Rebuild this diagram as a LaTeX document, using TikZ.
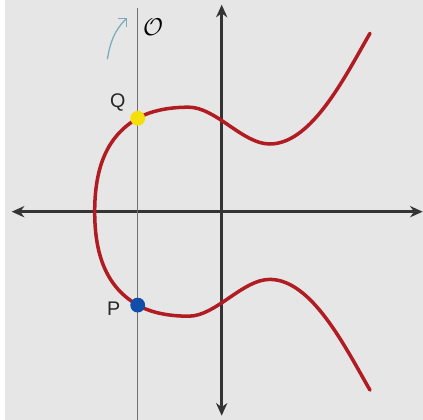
\documentclass[tikz,border=0pt]{standalone}
\usepackage{fontspec}
\setsansfont{Liberation Sans}
\usetikzlibrary{arrows.meta}
\definecolor{paper}{RGB}{230,230,230}
\definecolor{curvered}{RGB}{176,28,34}
\definecolor{axisgray}{RGB}{52,52,52}
\definecolor{linegray}{RGB}{112,112,112}
\definecolor{dotyellow}{RGB}{245,222,10}
\definecolor{dotblue}{RGB}{16,78,170}
\definecolor{hintteal}{RGB}{120,172,188}
\tikzset{
  axis/.style={line width=2.1pt, draw=axisgray, {Stealth[length=9pt,width=8pt]}-{Stealth[length=9pt,width=8pt]}},
  dot/.style={circle, inner sep=0pt, minimum size=0.37cm},
  ptlabel/.style={font=\sffamily\fontsize{14}{14}\selectfont, text=black!85}
}
\begin{document}
\begin{tikzpicture}[x=0.025cm, y=0.025cm]
\useasboundingbox (-221.7,-208.3) rectangle (201.3,211.7);
\fill[white] (-221.7,-208.3) rectangle (201.3,211.7);
\fill[paper] (-216.7,-208.3) rectangle (201.3,211.7);
% axes
\coordinate (xl) at (-210,0);
\coordinate (xr) at (201,0);
\coordinate (yt) at (0,207);
\coordinate (yb) at (0,-204);
\draw[axis] (xl) -- (xr);
\draw[axis] (yb) -- (yt);
% vertical line through P and Q
\coordinate (vt) at (-84,204);
\coordinate (vb) at (-84,-208.3);
\draw[line width=1pt, linegray] (vt) -- (vb);
% the curve
\draw[line width=2.5pt, curvered, line cap=round]
  (148.3,-178.4) .. controls (123.3,-135.1) and (90,-67.7) .. (48,-67.7)
  .. controls (21,-67.7) and (-6,-104.5) .. (-33,-104.5)
  .. controls (-50,-104.5) and (-69.3,-101.9) .. (-84,-93.4)
  .. controls (-114.3,-75.9) and (-127,-45) .. (-127,0)
  .. controls (-127,45) and (-114.3,75.9) .. (-84,93.4)
  .. controls (-69.3,101.9) and (-50,104.5) .. (-33,104.5)
  .. controls (-6,104.5) and (21,67.7) .. (48,67.7)
  .. controls (90,67.7) and (123.3,135.1) .. (148.3,178.4);
% points
\node[dot, fill=dotyellow] (Q) at (-84,93.4) {};
\node[dot, fill=dotblue] (P) at (-84,-93.4) {};
\node[ptlabel] (Qlabel) at (-104,109) {Q};
\node[ptlabel] (Plabel) at (-108,-97) {P};
\node[font=\fontsize{16}{16}\selectfont] (O) at (-68.5,184) {$\mathcal{O}$};
\coordinate (hs) at (-114.4,152.4);
\coordinate (he) at (-94.7,193.7);
\draw[hintteal, line width=0.9pt, -{Straight Barb[length=4pt]}] (hs) to[out=80, in=225] (he);
\end{tikzpicture}
\end{document}
